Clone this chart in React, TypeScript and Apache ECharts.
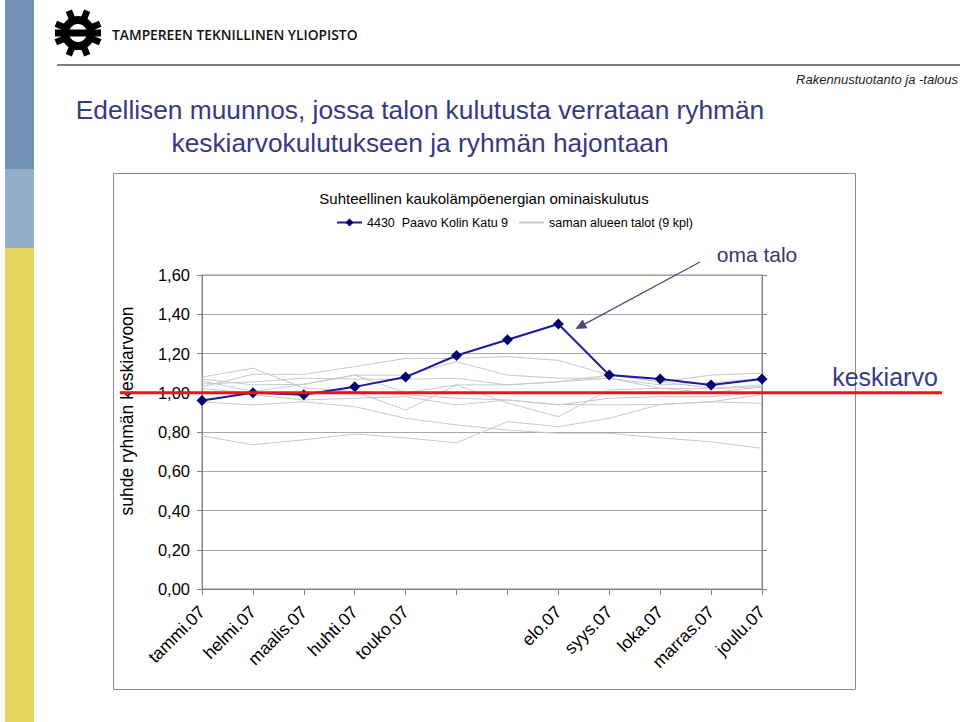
import React, { useEffect, useRef } from "react";
import * as echarts from "echarts";

const months = ["tammi.07", "helmi.07", "maalis.07", "huhti.07", "touko.07", "kesä.07", "heinä.07", "elo.07", "syys.07", "loka.07", "marras.07", "joulu.07"];
const hiddenLabelIdx = [5, 6];
const yMin = 0;
const yMax = 1.6;
const yStep = 0.2;
const averageLevel = 1.0;

const ownName = "4430  Paavo Kolin Katu 9";
const groupName = "saman alueen talot (9 kpl)";

const ownHouse = [0.96, 1.0, 0.99, 1.03, 1.08, 1.19, 1.27, 1.35, 1.09, 1.07, 1.04, 1.07];

const house1 = [0.78, 0.735, 0.76, 0.79, 0.77, 0.745, 0.853, 0.827, 0.87, 0.94, 0.954, 0.946];
const house2 = [0.953, 0.938, 0.954, 0.929, 0.87, 0.836, 0.81, 0.793, 0.793, 0.77, 0.75, 0.717];
const house3 = [1.02, 1.0, 1.0, 1.006, 0.912, 1.04, 0.948, 0.878, 1.014, 1.023, 1.0, 1.03];
const house4 = [1.03, 1.094, 1.094, 1.133, 1.175, 1.175, 1.184, 1.165, 1.09, 1.056, 1.09, 1.1];
const house5 = [1.08, 1.125, 1.024, 1.006, 0.99, 0.972, 0.963, 0.938, 0.972, 0.98, 0.98, 1.0];
const house6 = [1.07, 1.04, 1.043, 1.09, 1.09, 1.158, 1.09, 1.074, 1.074, 1.04, 1.05, 1.075];
const house7 = [1.045, 1.055, 1.074, 1.07, 1.069, 1.074, 1.04, 1.056, 1.09, 1.056, 1.023, 1.04];
const house8 = [1.0, 0.99, 0.963, 0.972, 0.98, 0.938, 0.963, 0.94, 0.938, 0.94, 0.954, 0.99];
const house9 = [1.06, 1.006, 1.043, 1.09, 1.0, 1.04, 1.04, 1.056, 1.074, 1.023, 1.02, 1.031];
const groupHouses = [house1, house2, house3, house4, house5, house6, house7, house8, house9];

const FONT = "'Liberation Sans', Arial, Helvetica, sans-serif";

function gearLogo(cx: number, cy: number) {
  const teeth: any[] = [];
  for (let k = 0; k < 8; k++) {
    const ang = ((22.5 + 45 * k) * Math.PI) / 180;
    teeth.push({
      type: "group",
      x: cx,
      y: cy,
      rotation: ang,
      children: [
        { type: "rect", shape: { x: -3.3, y: -24, width: 6.6, height: 11 }, style: { fill: "#000" } },
      ],
    });
  }
  return [
    { type: "ring", shape: { cx, cy, r: 17, r0: 9 }, style: { fill: "#000" } },
    ...teeth,
    { type: "rect", shape: { x: cx - 23, y: cy - 3.5, width: 46, height: 7 }, style: { fill: "#000" } },
  ];
}

export default function App() {
  const ref = useRef<HTMLDivElement>(null);
  useEffect(() => {
    if (!ref.current) return;
    const chart = echarts.init(ref.current, null, { renderer: "svg" });

    const series: any[] = groupHouses.map((d) => ({
      name: groupName,
      type: "line",
      data: d,
      symbol: "none",
      silent: true,
      z: 2,
      lineStyle: { color: "#c8c8c8", width: 1 },
      itemStyle: { color: "#c8c8c8" },
    }));
    series.push({
      name: ownName,
      type: "line",
      data: ownHouse,
      symbol: "diamond",
      symbolSize: 11,
      z: 5,
      lineStyle: { color: "#1a1aa0", width: 2 },
      itemStyle: { color: "#00006e" },
    });
    const ownIndex = series.length - 1;

    chart.setOption({
      animation: false,
      backgroundColor: "#ffffff",
      textStyle: { fontFamily: FONT },
      grid: {
        left: 202,
        right: 198,
        top: 275,
        bottom: 133,
        containLabel: false,
        show: true,
        borderColor: "#8a8a8a",
        borderWidth: 1,
        backgroundColor: "transparent",
      },
      legend: {
        data: [{ name: ownName }, { name: groupName, itemStyle: { opacity: 0 } }],
        left: 336,
        top: 216,
        padding: 0,
        itemWidth: 25,
        itemHeight: 10,
        itemGap: 10,
        textStyle: { fontSize: 12.5, color: "#000", fontFamily: FONT },
      },
      xAxis: {
        type: "category",
        data: months,
        boundaryGap: false,
        axisLine: { lineStyle: { color: "#808080", width: 1 } },
        axisTick: { show: true, interval: 0, length: 6, lineStyle: { color: "#808080" } },
        axisLabel: {
          interval: (i: number) => hiddenLabelIdx.indexOf(i) < 0,
          rotate: 45,
          fontSize: 17.5,
          color: "#000",
          margin: 20,
          fontFamily: FONT,
        },
        splitLine: { show: false },
      },
      yAxis: [
        {
          type: "value",
          min: yMin,
          max: yMax,
          interval: yStep,
          axisLine: { show: true, lineStyle: { color: "#808080" } },
          axisTick: { show: true, length: 5, lineStyle: { color: "#808080" } },
          axisLabel: {
            fontSize: 16.5,
            color: "#000",
            margin: 12,
            fontFamily: FONT,
            formatter: (v: number) => v.toFixed(2).replace(".", ","),
          },
          splitLine: { show: true, lineStyle: { color: "#a8a8a8", width: 1 } },
        },
        {
          type: "value",
          position: "right",
          min: yMin,
          max: yMax,
          interval: yStep,
          axisLine: { show: true, lineStyle: { color: "#808080" } },
          axisTick: { show: true, length: 5, lineStyle: { color: "#808080" } },
          axisLabel: { show: false },
          splitLine: { show: false },
        },
      ],
      series,
    });

    const avgY = chart.convertToPixel({ yAxisIndex: 0 }, averageLevel) as number;
    const peakIdx = ownHouse.indexOf(Math.max(...ownHouse));
    const peak = chart.convertToPixel({ seriesIndex: ownIndex }, [peakIdx, ownHouse[peakIdx]]) as number[];
    const ax1 = 700, ay1 = 262;
    const ax2 = peak[0] + 17, ay2 = peak[1] + 5;
    const ang = Math.atan2(ay2 - ay1, ax2 - ax1);
    const hl = 11, hw = 5;
    const bx = ax2 - hl * Math.cos(ang), by = ay2 - hl * Math.sin(ang);
    const headPts = [
      [ax2, ay2],
      [bx + hw * Math.sin(ang), by - hw * Math.cos(ang)],
      [bx - hw * Math.sin(ang), by + hw * Math.cos(ang)],
    ];

    const graphic: any[] = [
      // left decorative bars
      { type: "rect", z: -10, shape: { x: 5, y: 0, width: 29, height: 169 }, style: { fill: "#7290b6" } },
      { type: "rect", z: -10, shape: { x: 5, y: 169, width: 29, height: 79 }, style: { fill: "#94adc9" } },
      { type: "rect", z: -10, shape: { x: 5, y: 248, width: 29, height: 474 }, style: { fill: "#e4d35d" } },
      // header
      ...gearLogo(78, 33).map((e: any) => ({ ...e, z: -5 })),
      {
        type: "text",
        z: -5,
        x: 112,
        y: 34,
        style: {
          text: "TAMPEREEN TEKNILLINEN YLIOPISTO",
          fontFamily: "'Open Sans', 'DejaVu Sans', sans-serif",
          fontSize: 13.8,
          fontWeight: 600,
          fill: "#111",
          textAlign: "left",
          textVerticalAlign: "middle",
        } as any,
      },
      { type: "line", z: -5, shape: { x1: 57, y1: 65, x2: 960, y2: 65 }, style: { stroke: "#000", lineWidth: 1 } },
      {
        type: "text",
        z: -5,
        x: 958,
        y: 79,
        style: { text: "Rakennustuotanto ja -talous", fontFamily: FONT, fontSize: 13, fontStyle: "italic", fill: "#222", textAlign: "right", textVerticalAlign: "middle" } as any,
      },
      {
        type: "text",
        z: -5,
        x: 420,
        y: 110,
        style: { text: "Edellisen muunnos, jossa talon kulutusta verrataan ryhmän", fontFamily: FONT, fontSize: 26.3, fill: "#363a80", textAlign: "center", textVerticalAlign: "middle" } as any,
      },
      {
        type: "text",
        z: -5,
        x: 420,
        y: 143,
        style: { text: "keskiarvokulutukseen ja ryhmän hajontaan", fontFamily: FONT, fontSize: 26.3, fill: "#363a80", textAlign: "center", textVerticalAlign: "middle" } as any,
      },
      // chart frame
      { type: "rect", z: -8, shape: { x: 113.5, y: 173.5, width: 742, height: 516 }, style: { fill: "#ffffff", stroke: "#8a8a8a", lineWidth: 1 } },
      {
        type: "text",
        z: 1,
        x: 484,
        y: 198,
        style: { text: "Suhteellinen kaukolämpöenergian ominaiskulutus", fontFamily: FONT, fontSize: 15, fill: "#000", textAlign: "center", textVerticalAlign: "middle" } as any,
      },
      {
        type: "text",
        z: 1,
        x: 127,
        y: 411,
        rotation: Math.PI / 2,
        style: { text: "suhde ryhmän keskiarvoon", fontFamily: FONT, fontSize: 17.5, fill: "#000", textAlign: "center", textVerticalAlign: "middle" } as any,
      },
      // annotations
      {
        type: "text",
        z: 20,
        x: 757,
        y: 254,
        style: { text: "oma talo", fontFamily: FONT, fontSize: 21, fill: "#343870", textAlign: "center", textVerticalAlign: "middle" } as any,
      },
      { type: "line", z: 20, shape: { x1: ax1, y1: ay1, x2: bx, y2: by }, style: { stroke: "#4a4a7e", lineWidth: 1.2 } },
      { type: "polygon", z: 20, shape: { points: headPts }, style: { fill: "#4a4a7e" } },
      { type: "line", z: 30, shape: { x1: 120, y1: avgY, x2: 942, y2: avgY }, style: { stroke: "#e8141c", lineWidth: 3 } },
      {
        type: "text",
        z: 20,
        x: 885,
        y: 377,
        style: { text: "keskiarvo", fontFamily: FONT, fontSize: 25, fill: "#363a80", textAlign: "center", textVerticalAlign: "middle" } as any,
      },
    ];
    chart.setOption({ graphic });

    return () => chart.dispose();
  }, []);
  return <div ref={ref} style={{ position: "fixed", left: 0, top: 0, width: 960, height: 722 }} />;
}
